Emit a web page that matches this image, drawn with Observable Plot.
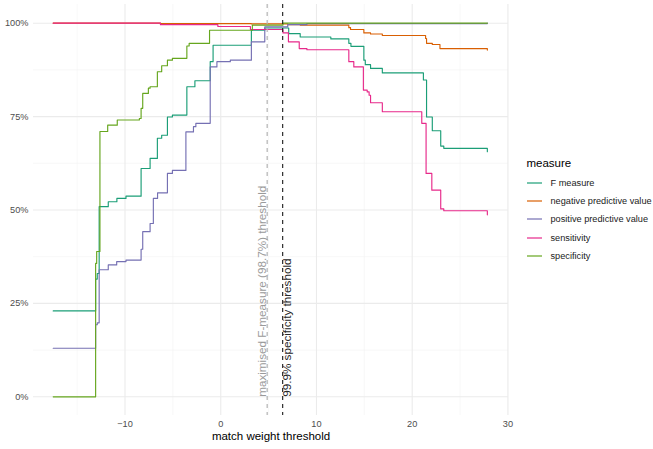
<!DOCTYPE html>
<html>
<head>
<meta charset="utf-8">
<script src="https://cdn.jsdelivr.net/npm/d3@7"></script>
<script src="https://cdn.jsdelivr.net/npm/@observablehq/plot@0.6"></script>
<style>
  body { margin: 0; background: #fff; font-family: "Liberation Sans", Arial, sans-serif; }
  #wrap { position: relative; width: 653px; height: 449px; }
  #legend { position: absolute; left: 526.5px; top: 156px; }
  #legend .title { font-size: 11.5px; line-height: 14px; color: #000; margin-bottom: 3.5px; }
  #legend .item { height: 18.3px; display: flex; align-items: center; font-size: 9.2px; color: #1a1a1a; }
  #legend svg { margin-right: 9px; display: block; }
</style>
</head>
<body>
<div id="wrap"><div id="chart"></div><div id="legend"></div></div>
<script>
// ---- categories / colours ----
const measures = ["F measure", "negative predictive value", "positive predictive value", "sensitivity", "specificity"];
const colors = ["#1B9E77", "#D95F02", "#7570B3", "#E7298A", "#66A61E"];

// ---- series (threshold, value in %) ----
const fmT = [-17.5, -13.07, -12.9, -12.7, -11.75, -10.85, -9.9, -8.32, -7.38, -6.62, -6.17, -5.57, -5.05, -3.54, -2.7, -1.1, -0.8, 3.2, 4.6, 7.1, 8.3, 11.5, 13.38, 13.6, 14.95, 15.1, 15.65, 16.88, 21.17, 21.5, 22.1, 22.98, 23.3, 27.85];
const fmV = [23.0, 31.5, 33.0, 50.9, 52.2, 53.1, 53.7, 61.1, 63.8, 69.2, 70.0, 74.9, 75.4, 83.0, 84.6, 89.7, 94.1, 98.1, 98.7, 97.2, 96.3, 95.8, 94.6, 93.8, 90.1, 88.9, 87.9, 86.7, 84.8, 74.9, 71.2, 67.1, 66.5, 65.6];

const npvT = [-17.5, -6.3, 3.2, 7.0, 8.3, 13.38, 13.56, 14.95, 15.65, 16.88, 21.4, 21.5, 22.1, 22.9, 27.85];
const npvV = [100, 99.9, 99.8, 99.6, 99.5, 98.8, 98.3, 97.4, 97.1, 96.7, 95.9, 94.6, 94.3, 93.2, 92.8];

const ppvT = [-17.5, -13.07, -12.9, -12.7, -11.75, -10.87, -9.9, -8.32, -8.15, -7.38, -7.04, -6.6, -5.57, -5.05, -3.64, -2.85, -2.6, -1.1, -0.4, 1.0, 3.2, 4.6, 7.0, 9.0, 27.85];
const ppvV = [13.0, 19.3, 19.8, 34.0, 35.3, 36.2, 36.6, 39.5, 44.2, 46.4, 53.1, 54.6, 59.8, 60.6, 70.9, 72.3, 73.2, 88.3, 89.7, 90.1, 95.0, 99.0, 99.6, 99.9, 100];

const sensT = [-17.5, -6.3, -0.3, 3.1, 6.5, 7.07, 8.2, 9.0, 13.38, 13.9, 14.9, 15.3, 15.5, 15.65, 16.88, 21.0, 21.45, 22.05, 22.98, 23.3, 27.85];
const sensV = [100, 99.6, 99.1, 98.3, 97.4, 95.0, 93.2, 92.9, 89.7, 88.3, 82.1, 81.6, 80.7, 78.7, 76.3, 73.2, 59.8, 55.3, 50.3, 49.8, 48.7];

const specT = [-17.5, -13.07, -12.96, -12.62, -11.81, -10.81, -8.5, -8.32, -8.15, -7.56, -7.38, -6.62, -6.17, -5.57, -5.05, -3.54, -3.3, -1.17, 3.3, 6.5, 27.85];
const specV = [0, 35.7, 38.9, 71.0, 72.7, 74.1, 74.5, 77.2, 81.2, 82.6, 83.0, 87.0, 88.6, 90.1, 90.6, 93.9, 94.6, 98.1, 99.5, 100, 100];

// ---- thresholds ----
const thrX = [4.85, 6.47];
const thrLabels = ["maximised F-measure (98.7%) threshold", "99.9% specificity threshold"];

// ---- ticks ----
const xTicks = [-10, 0, 10, 20, 30];
const xMinor = [-15, -5, 5, 15, 25];
const yTicks = [0, 25, 50, 75, 100];
const yMinor = [12.5, 37.5, 62.5, 87.5];
const xLabel = "match weight threshold";
const legendTitle = "measure";

// ---- build table ----
const seriesT = [fmT, npvT, ppvT, sensT, specT];
const seriesV = [fmV, npvV, ppvV, sensV, specV];
const rows = [];
measures.forEach((m, i) => seriesT[i].forEach((t, j) => rows.push({measure: m, t, v: seriesV[i][j]})));
const thr = thrX.map((x, i) => ({x, label: thrLabels[i]}));

const chart = Plot.plot({
  width: 653,
  height: 449,
  marginLeft: 33,
  marginRight: 145,
  marginTop: 4,
  marginBottom: 34,
  style: {fontFamily: "Liberation Sans, Arial, sans-serif", fontSize: "9.2px", color: "#4d4d4d", background: "white", overflow: "visible"},
  x: {domain: [-19.56, 30.06], ticks: xTicks, tickSize: 0, tickPadding: 5, label: null},
  y: {domain: [-5, 105], ticks: yTicks, tickSize: 0, tickPadding: 5, tickFormat: d => d + "%", label: null},
  color: {domain: measures, range: colors},
  marks: [
    Plot.ruleX(xMinor, {stroke: "#f3f3f3", strokeWidth: 0.6}),
    Plot.ruleY(yMinor, {stroke: "#f3f3f3", strokeWidth: 0.6}),
    Plot.ruleX(xTicks, {stroke: "#ebebeb", strokeWidth: 1.1}),
    Plot.ruleY(yTicks, {stroke: "#ebebeb", strokeWidth: 1.1}),
    Plot.line(rows, {x: "t", y: "v", z: "measure", stroke: "measure", curve: "step-after", strokeWidth: 1.15}),
    Plot.ruleX([thr[0]], {x: "x", stroke: "#b3b3b3", strokeWidth: 1.2, strokeDasharray: "4,4"}),
    Plot.ruleX([thr[1]], {x: "x", stroke: "#1a1a1a", strokeWidth: 1.1, strokeDasharray: "4,4"}),
    Plot.text([thr[0]], {x: "x", y: () => 0, text: "label", rotate: -90, textAnchor: "start", dx: -4.5, fill: "#9a9a9a", fontSize: 11.7}),
    Plot.text([thr[1]], {x: "x", y: () => 0, text: "label", rotate: -90, textAnchor: "start", dx: 5, fill: "#262626", fontSize: 11.7}),
    Plot.text([xLabel], {text: d => d, frameAnchor: "bottom", dy: 24, fill: "#000", fontSize: 11.5})
  ]
});
document.getElementById("chart").appendChild(chart);

// ---- legend ----
const lg = d3.select("#legend");
lg.append("div").attr("class", "title").text(legendTitle);
measures.forEach((m, i) => {
  const it = lg.append("div").attr("class", "item");
  const sv = it.append("svg").attr("width", 15).attr("height", 4);
  sv.append("line").attr("x1", 0).attr("x2", 15).attr("y1", 2).attr("y2", 2)
    .attr("stroke", colors[i]).attr("stroke-width", 1.2);
  it.append("span").text(m);
});
</script>
</body>
</html>
